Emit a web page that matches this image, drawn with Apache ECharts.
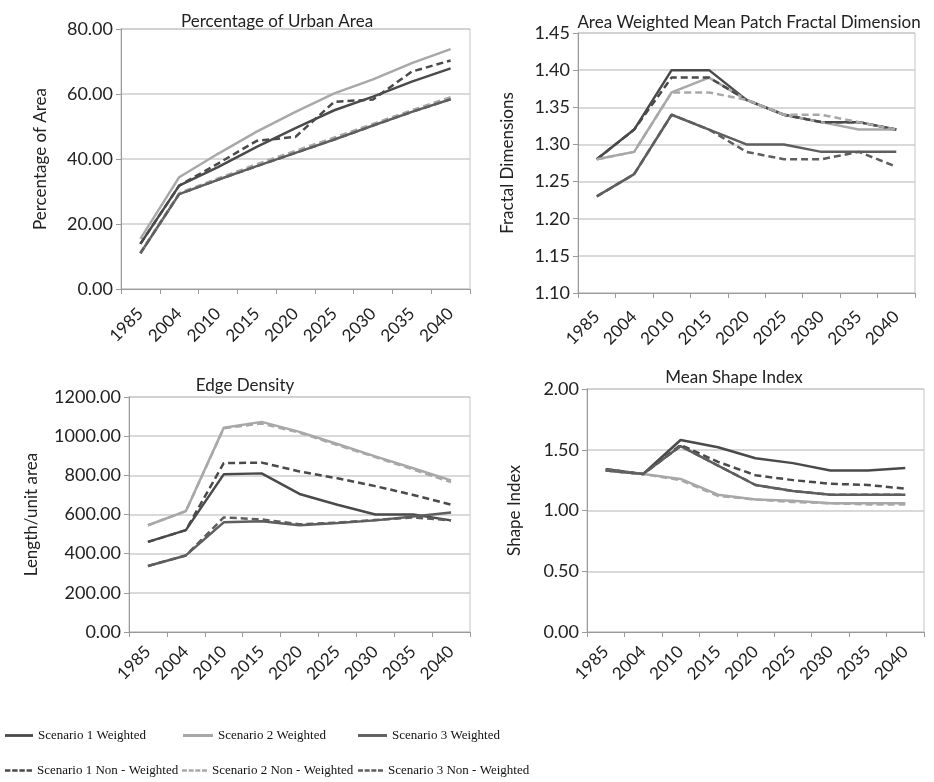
<!DOCTYPE html>
<html>
<head>
<meta charset="utf-8">
<script src="https://cdn.jsdelivr.net/npm/echarts@6/dist/echarts.min.js"></script>
<style>
html,body{margin:0;padding:0;background:#fff;}
#chart{width:934px;height:782px;}
</style>
</head>
<body>
<div id="chart"></div>
<script>
// ---- data ----
const years = ['1985','2004','2010','2015','2020','2025','2030','2035','2040'];
const seriesNames = ['Scenario 1 Weighted','Scenario 1 Non - Weighted','Scenario 2 Weighted','Scenario 2 Non - Weighted','Scenario 3 Weighted','Scenario 3 Non - Weighted'];

const urbanS1W = [13.9, 31.8, 37.5, 43.7, 49.5, 55.0, 59.2, 63.8, 67.9];
const urbanS1N = [13.9, 31.8, 38.6, 45.6, 46.8, 57.6, 58.3, 66.9, 70.3];
const urbanS2W = [15.4, 34.4, 41.6, 48.4, 54.5, 60.2, 64.5, 69.5, 73.8];
const urbanS2N = [11.2, 29.5, 34.0, 38.4, 42.5, 46.6, 50.8, 55.0, 59.0];
const urbanS3W = [11.0, 29.2, 33.6, 37.8, 41.9, 46.0, 50.3, 54.5, 58.4];
const urbanS3N = [11.0, 29.2, 33.6, 37.8, 41.9, 46.0, 50.3, 54.5, 58.4];

const fracS1W = [1.28, 1.32, 1.40, 1.40, 1.36, 1.34, 1.33, 1.33, 1.32];
const fracS1N = [1.28, 1.32, 1.39, 1.39, 1.36, 1.34, 1.33, 1.33, 1.32];
const fracS2W = [1.28, 1.29, 1.37, 1.39, 1.36, 1.34, 1.33, 1.32, 1.32];
const fracS2N = [1.28, 1.29, 1.37, 1.37, 1.36, 1.34, 1.34, 1.33, 1.32];
const fracS3W = [1.23, 1.26, 1.34, 1.32, 1.30, 1.30, 1.29, 1.29, 1.29];
const fracS3N = [1.23, 1.26, 1.34, 1.32, 1.29, 1.28, 1.28, 1.29, 1.27];

const edgeS1W = [460, 520, 805, 810, 705, 650, 600, 600, 570];
const edgeS1N = [460, 520, 862, 865, 820, 785, 745, 700, 650];
const edgeS2W = [545, 617, 1043, 1073, 1022, 960, 897, 836, 774];
const edgeS2N = [545, 617, 1040, 1065, 1018, 955, 893, 830, 765];
const edgeS3W = [337, 391, 560, 565, 545, 557, 570, 590, 610];
const edgeS3N = [337, 391, 585, 575, 550, 558, 572, 585, 570];

const shapeS1W = [1.34, 1.30, 1.58, 1.52, 1.43, 1.39, 1.33, 1.33, 1.35];
const shapeS1N = [1.34, 1.30, 1.54, 1.40, 1.29, 1.25, 1.22, 1.21, 1.18];
const shapeS2W = [1.33, 1.30, 1.26, 1.13, 1.09, 1.08, 1.06, 1.06, 1.06];
const shapeS2N = [1.33, 1.30, 1.25, 1.12, 1.09, 1.07, 1.06, 1.05, 1.05];
const shapeS3W = [1.33, 1.30, 1.53, 1.37, 1.21, 1.16, 1.13, 1.13, 1.13];
const shapeS3N = [1.33, 1.30, 1.53, 1.37, 1.21, 1.16, 1.13, 1.13, 1.13];

const panelTitles = ['Percentage of Urban Area','Area Weighted Mean Patch Fractal Dimension','Edge Density','Mean Shape Index'];
const yNames = ['Percentage of Area','Fractal Dimensions','Length/unit area','Shape Index'];
const yMins = [0, 1.10, 0, 0];
const yMaxs = [80, 1.45, 1200, 2];
const yIntervals = [20, 0.05, 200, 0.5];

const panelData = [
  [urbanS1W, urbanS1N, urbanS2W, urbanS2N, urbanS3W, urbanS3N],
  [fracS1W, fracS1N, fracS2W, fracS2N, fracS3W, fracS3N],
  [edgeS1W, edgeS1N, edgeS2W, edgeS2N, edgeS3W, edgeS3N],
  [shapeS1W, shapeS1N, shapeS2W, shapeS2N, shapeS3W, shapeS3N]
];

// ---- styles ----
const colors = ['#4a4a4a','#4a4a4a','#a8a8a8','#a8a8a8','#5e5e5e','#5e5e5e'];
const dashed = [false,true,false,true,false,true];
const grids = [
  {left:121, top:29, width:349, height:260},
  {left:578, top:33, width:337, height:260},
  {left:129, top:397, width:341, height:235},
  {left:587, top:389, width:337, height:243}
];
const titlePos = [[272,8],[744,9],[240,372],[729,364]];
const nameGaps = [72, 62, 89, 64];
const xLabelMargins = [22, 21, 17, 17];
const font = 'Lato, "Open Sans", sans-serif';
const solidIcon = 'path://M0,0h30v3h-30z';
const dashIcon = 'path://M0,0h6v3h-6z M8,0h6v3h-6z M16,0h6v3h-6z M24,0h6v3h-6z';

const chart = echarts.init(document.getElementById('chart'), null, {renderer:'canvas'});

const option = {
  backgroundColor:'#ffffff',
  animation:false,
  title: panelTitles.map((t,i)=>({
    text:t, left:titlePos[i][0], top:titlePos[i][1], textAlign:'center',
    textStyle:{fontFamily:font, fontSize:17, fontWeight:'normal', color:'#222'}
  })),
  grid: grids.map(g=>Object.assign({show:true, borderColor:'#c4c4c4', borderWidth:1, containLabel:false}, g)),
  xAxis: grids.map((g,i)=>({
    type:'category', gridIndex:i, data:years, boundaryGap:true,
    axisLine:{lineStyle:{color:'#9a9a9a', width:1}},
    axisTick:{show:true, length:5, lineStyle:{color:'#9a9a9a'}},
    axisLabel:{rotate:45, fontFamily:font, fontSize:17, color:'#222', margin:xLabelMargins[i], interval:0}
  })),
  yAxis: grids.map((g,i)=>({
    type:'value', gridIndex:i, min:yMins[i], max:yMaxs[i], interval:yIntervals[i],
    name:yNames[i], nameLocation:'middle', nameGap:nameGaps[i],
    nameTextStyle:{fontFamily:font, fontSize:17, color:'#222'},
    axisLine:{show:true, lineStyle:{color:'#9a9a9a'}},
    axisTick:{show:true, length:5, lineStyle:{color:'#9a9a9a'}},
    splitLine:{show:true, lineStyle:{color:'#cccccc', width:1.5}},
    axisLabel:{fontFamily:font, fontSize:18, color:'#222', margin:8,
      formatter:v=>Number(v).toFixed(2)}
  })),
  legend: [
    {left:5, top:729, width:200, itemWidth:28, data:[{name:seriesNames[0], icon:solidIcon}]},
    {left:183, top:729, width:200, itemWidth:30, data:[{name:seriesNames[2], icon:solidIcon}]},
    {left:358, top:729, width:200, itemWidth:29, data:[{name:seriesNames[4], icon:solidIcon}]},
    {left:5, top:764, width:200, itemWidth:27, data:[{name:seriesNames[1], icon:dashIcon}]},
    {left:182, top:764, width:200, itemWidth:25, data:[{name:seriesNames[3], icon:dashIcon}]},
    {left:358, top:764, width:200, itemWidth:25, data:[{name:seriesNames[5], icon:dashIcon}]}
  ].map(l=>Object.assign({
    orient:'horizontal', itemHeight:3, padding:0, selectedMode:false,
    textStyle:{fontFamily:'"Liberation Serif", serif', fontSize:13, color:'#111'}
  }, l)),
  series: []
};

for (let p=0; p<4; p++) {
  for (let s=0; s<6; s++) {
    option.series.push({
      type:'line', name:seriesNames[s], xAxisIndex:p, yAxisIndex:p,
      data:panelData[p][s], symbol:'none', smooth:false,
      lineStyle:{color:colors[s], width:2.5, type: dashed[s] ? [7,4] : 'solid'},
      itemStyle:{color:colors[s]},
      z: dashed[s] ? 3 : 2
    });
  }
}

chart.setOption(option);
</script>
</body>
</html>
